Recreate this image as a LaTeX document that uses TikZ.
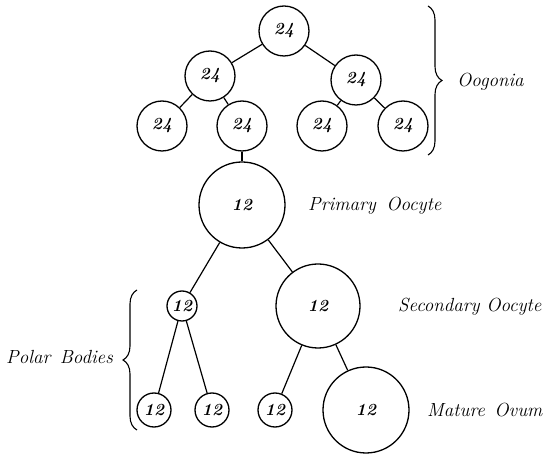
\documentclass[tikz,border=0pt]{standalone}
\usetikzlibrary{decorations.pathreplacing}
\begin{document}
\begin{tikzpicture}[x=1pt,y=-1pt,
  cell/.style={circle,draw,line width=1.3pt,inner sep=0pt,font=\fontsize{17}{20}\selectfont\itshape\bfseries},
  link/.style={line width=1.2pt},
  lbl/.style={anchor=west,inner sep=0pt,font=\fontsize{19}{23}\selectfont\itshape},
  brc/.style={decorate,decoration={brace,amplitude=14pt},line width=1.1pt}]
\useasboundingbox (0,0) rectangle (547,454);
% Oogonia
\node[cell,minimum size=50pt] (t)  at (284,31)  {24};
\node[cell,minimum size=50pt] (l)  at (210,76)  {24};
\node[cell,minimum size=50pt] (r)  at (356,80)  {24};
\node[cell,minimum size=50pt] (l1) at (162,126) {24};
\node[cell,minimum size=50pt] (l2) at (242,126) {24};
\node[cell,minimum size=50pt] (r1) at (322,126) {24};
\node[cell,minimum size=50pt] (r2) at (403,126) {24};
% Oocytes
\node[cell,minimum size=86pt] (p)  at (242,205) {12};
\node[cell,minimum size=30pt] (pb) at (182,306) {12};
\node[cell,minimum size=84pt] (s)  at (318,306) {12};
\node[cell,minimum size=34pt] (b1) at (154,410) {12};
\node[cell,minimum size=34pt] (b2) at (212,410) {12};
\node[cell,minimum size=34pt] (b3) at (275,410) {12};
\node[cell,minimum size=86pt] (m)  at (366,410) {12};
% connectors
\draw[link] (t) -- (l);
\draw[link] (t) -- (r);
\draw[link] (l) -- (l1);
\draw[link] (l) -- (l2);
\draw[link] (r) -- (r1);
\draw[link] (r) -- (r2);
\draw[link] (l2) -- (p);
\draw[link] (p) -- (pb);
\draw[link] (p) -- (s);
\draw[link] (pb) -- (b1);
\draw[link] (pb) -- (b2);
\draw[link] (s) -- (b3);
\draw[link] (s) -- (m);
% braces
\coordinate (oa) at (428,6);
\coordinate (ob) at (428,155);
\draw[brc] (oa) -- (ob);
\coordinate (pa) at (137,430);
\coordinate (pz) at (137,290);
\draw[brc] (pa) -- (pz);
% labels
\node[lbl] (og) at (457,82)  {Oogonia};
\node[lbl] (po) at (308,206) {Primary\hspace{0.55em}Oocyte};
\node[lbl] (so) at (398,307) {Secondary\hspace{0.35em}Oocyte};
\node[lbl] (pl) at (6,357)   {Polar\hspace{0.5em}Bodies};
\node[lbl] (mo) at (427,410) {Mature\hspace{0.5em}Ovum};
\end{tikzpicture}
\end{document}
